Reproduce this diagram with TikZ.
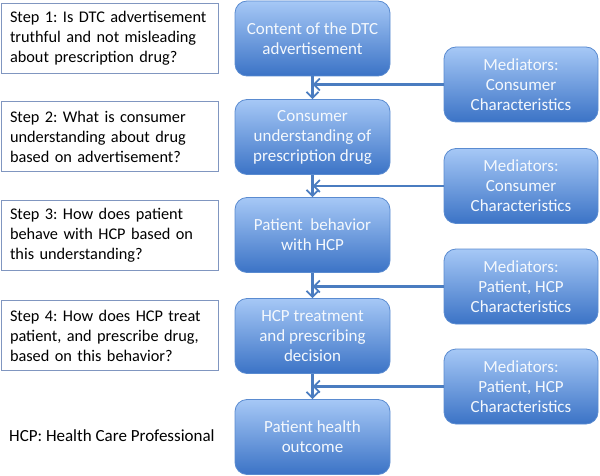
\documentclass[tikz,border=0pt]{standalone}
\usepackage{fontspec}
\setmainfont{Carlito}
\usetikzlibrary{arrows.meta}
\definecolor{boxtop}{HTML}{A6C8F6}
\definecolor{boxbot}{HTML}{3B73C6}
\definecolor{boxline}{HTML}{5A8BD0}
\definecolor{stepline}{HTML}{8096C0}
\definecolor{arrowc}{HTML}{4A7CC0}
\definecolor{boxtext}{HTML}{F4F8FD}
\newcommand{\stepln}[1]{\mbox{#1}}
\tikzset{
  flowbox/.style={draw=boxline, line width=0.8pt, rounded corners=12pt,
    top color=boxtop, bottom color=boxbot, minimum width=155pt, minimum height=75pt,
    align=center, text=boxtext, font=\fontsize{17}{20}\selectfont, inner sep=0pt},
  stepbox/.style={draw=stepline, line width=0.7pt, minimum width=217pt, minimum height=70pt,
    text width=199pt, align=left, font=\fontsize{16.3}{20}\selectfont, inner sep=0pt},
  flowarrow/.style={draw=arrowc, line width=2.2pt, -{Straight Barb[length=6pt,width=12pt,line width=1.8pt]}},
}
\begin{document}
\frenchspacing
\begin{tikzpicture}[x=1pt,y=-1pt]
\useasboundingbox (0,0) rectangle (600,476);
% left step boxes
\node[stepbox] (s1) at (109.5,38.5) {\stepln{Step 1: Is DTC advertisement}\\\stepln{truthful and not misleading}\\\stepln{about prescription drug?}};
\node[stepbox] (s2) at (109.5,136.5) {\stepln{Step 2: What is consumer}\\\stepln{understanding about drug}\\\stepln{based on advertisement?}};
\node[stepbox] (s3) at (109.5,235) {\stepln{Step 3: How does patient}\\\stepln{behave with HCP based on}\\\stepln{this understanding?}};
\node[stepbox] (s4) at (109.5,335.5) {\stepln{Step 4: How does HCP treat}\\\stepln{patient, and prescribe drug,}\\\stepln{based on this behavior?}};
\node[anchor=west, font=\fontsize{17}{20}\selectfont, inner sep=0pt] (leg) at (9,436) {HCP: Health Care Professional};
% center flow boxes
\node[flowbox] (b1) at (312.5,38.5) {Content of the DTC\\advertisement};
\node[flowbox] (b2) at (312.5,137) {Consumer\\understanding of\\prescription drug};
\node[flowbox] (b3) at (312.5,235) {Patient\ \ behavior\\with HCP};
\node[flowbox] (b4) at (312.5,336) {HCP treatment\\and prescribing\\decision};
\node[flowbox] (b5) at (312.5,437) {Patient health\\outcome};
% mediator boxes
\node[flowbox, minimum width=154pt] (m1) at (521,84.5) {Mediators:\\Consumer\\Characteristics};
\node[flowbox, minimum width=154pt] (m2) at (521,186) {Mediators:\\Consumer\\Characteristics};
\node[flowbox, minimum width=154pt] (m3) at (521,286.5) {Mediators:\\Patient, HCP\\Characteristics};
\node[flowbox, minimum width=154pt] (m4) at (521,386.5) {Mediators:\\Patient, HCP\\Characteristics};
% arrows
\draw[flowarrow] (b1.south) -- (b2.north);
\draw[flowarrow] (b2.south) -- (b3.north);
\draw[flowarrow] (b3.south) -- (b4.north);
\draw[flowarrow] (b4.south) -- (b5.north);
\coordinate (j1) at (b1.south |- m1.west);
\coordinate (j2) at (b2.south |- m2.west);
\coordinate (j3) at (b3.south |- m3.west);
\coordinate (j4) at (b4.south |- m4.west);
\draw[flowarrow] (m1.west) -- (j1);
\draw[flowarrow] (m2.west) -- (j2);
\draw[flowarrow] (m3.west) -- (j3);
\draw[flowarrow] (m4.west) -- (j4);
\end{tikzpicture}
\end{document}
